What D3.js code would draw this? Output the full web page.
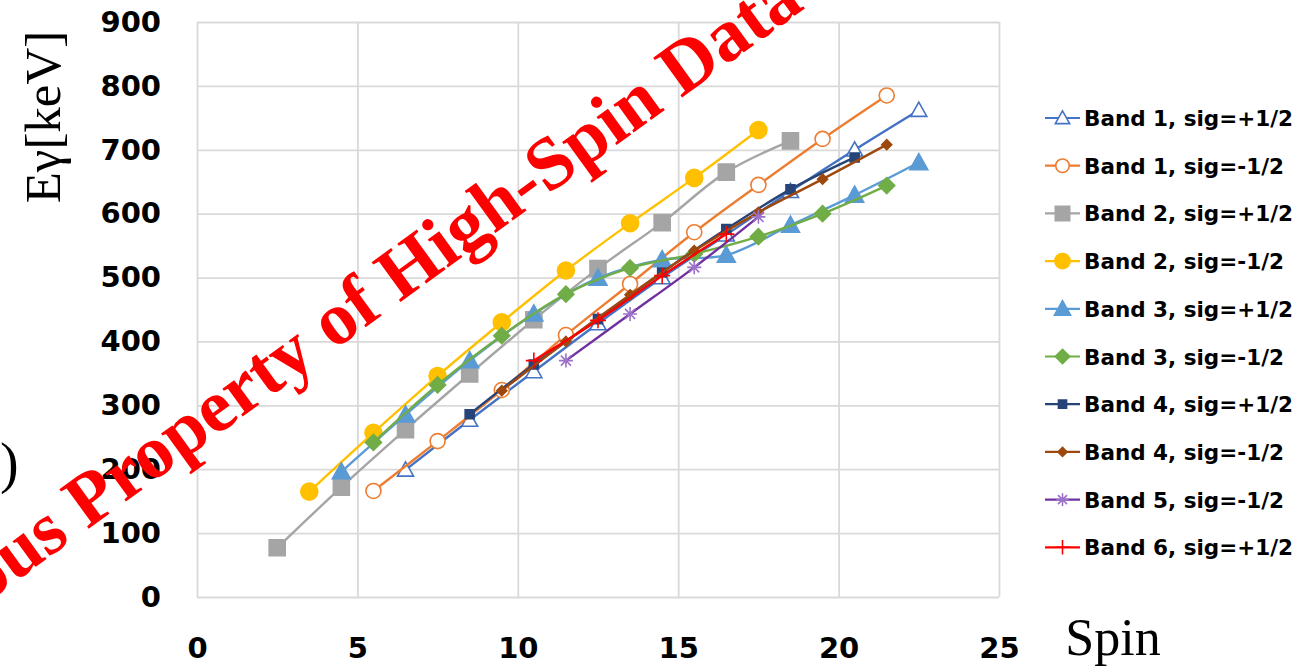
<!DOCTYPE html>
<html>
<head>
<meta charset="utf-8">
<script src="https://cdn.jsdelivr.net/npm/d3@7"></script>
<style>
  html, body { margin: 0; padding: 0; background: #fff; }
  svg { display: block; }
</style>
</head>
<body>
<svg id="chart" width="1311" height="669"></svg>
<script>
// Transition energies (keV) versus spin for each rotational band and signature
const spinB1p = [6.5, 8.5, 10.5, 12.5, 14.5, 16.5, 18.5, 20.5, 22.5];
const eB1p    = [199, 277, 353, 428, 500, 567, 635, 700, 762];

const spinB1m = [5.5, 7.5, 9.5, 11.5, 13.5, 15.5, 17.5, 19.5, 21.5];
const eB1m    = [166, 244, 324, 410, 490, 571, 645, 717, 785];

const spinB2p = [2.5, 4.5, 6.5, 8.5, 10.5, 12.5, 14.5, 16.5, 18.5];
const eB2p    = [77, 172, 262, 349, 434, 514, 586, 665, 714];

const spinB2m = [3.5, 5.5, 7.5, 9.5, 11.5, 13.5, 15.5, 17.5];
const eB2m    = [165, 257, 346, 430, 511, 585, 656, 731];

const spinB3p = [4.5, 6.5, 8.5, 10.5, 12.5, 14.5, 16.5, 18.5, 20.5, 22.5];
const eB3p    = [196, 285, 370, 443, 499, 528, 535, 582, 629, 680];

const spinB3m = [5.5, 7.5, 9.5, 11.5, 13.5, 15.5, 17.5, 19.5, 21.5];
const eB3m    = [242, 332, 409, 474, 515, 537, 564, 600, 644];

const spinB4p = [8.5, 10.5, 12.5, 14.5, 16.5, 18.5, 20.5];
const eB4p    = [286, 364, 435, 508, 576, 638, 688];

const spinB4m = [9.5, 11.5, 13.5, 15.5, 17.5, 19.5, 21.5];
const eB4m    = [323, 400, 473, 542, 602, 654, 708];

const spinB5m = [11.5, 13.5, 15.5, 17.5];
const eB5m    = [370, 443, 516, 595];

const spinB6p = [10.5, 12.5, 14.5, 16.5];
const eB6p    = [370, 433, 503, 568];

const seriesNames = [
  "Band 1, sig=+1/2", "Band 1, sig=-1/2",
  "Band 2, sig=+1/2", "Band 2, sig=-1/2",
  "Band 3, sig=+1/2", "Band 3, sig=-1/2",
  "Band 4, sig=+1/2", "Band 4, sig=-1/2",
  "Band 5, sig=-1/2", "Band 6, sig=+1/2"
];

const xTicks = [0, 5, 10, 15, 20, 25];
const yTicks = [0, 100, 200, 300, 400, 500, 600, 700, 800, 900];

// Styling for each series: line colour, marker shape, marker fill/stroke
const styles = [
  { line: "#4472C4", shape: "triangle", size: 8,   fill: "#fff",    stroke: "#4472C4" },
  { line: "#ED7D31", shape: "circle",   size: 7.5, fill: "#fff",    stroke: "#ED7D31" },
  { line: "#A5A5A5", shape: "square",   size: 8,   fill: "#A5A5A5", stroke: "#A5A5A5" },
  { line: "#FFC000", shape: "circle",   size: 8.5, fill: "#FFC000", stroke: "#FFC000" },
  { line: "#5B9BD5", shape: "triangle", size: 9,   fill: "#5B9BD5", stroke: "#5B9BD5" },
  { line: "#70AD47", shape: "diamond",  size: 8,   fill: "#70AD47", stroke: "#70AD47" },
  { line: "#264478", shape: "square",   size: 4.5, fill: "#264478", stroke: "#264478" },
  { line: "#9E480E", shape: "diamond",  size: 5,   fill: "#9E480E", stroke: "#9E480E" },
  { line: "#7030A0", shape: "star",     size: 7,   fill: "none",    stroke: "#9B72C8" },
  { line: "#FF0000", shape: "plus",     size: 8,   fill: "none",    stroke: "#FF0000" }
];

const spins  = [spinB1p, spinB1m, spinB2p, spinB2m, spinB3p, spinB3m, spinB4p, spinB4m, spinB5m, spinB6p];
const values = [eB1p, eB1m, eB2p, eB2m, eB3p, eB3m, eB4p, eB4m, eB5m, eB6p];

const series = seriesNames.map((name, i) => ({
  name,
  style: styles[i],
  points: spins[i].map((s, j) => ({ s, e: values[i][j] }))
}));

const svg = d3.select("#chart");

const x = d3.scaleLinear().domain([0, 25]).range([197, 999]);
const y = d3.scaleLinear().domain([0, 900]).range([597, 22]);

// Gridlines and tick labels
const gridColor = "#D9D9D9";
const tickFont = "'DejaVu Sans', sans-serif";

const xAxis = svg.append("g")
  .attr("transform", `translate(0,${y(0)})`)
  .call(d3.axisBottom(x).tickValues(xTicks).tickSize(-(y(0) - y(900))).tickPadding(40).tickFormat(d3.format("d")));
const yAxis = svg.append("g")
  .attr("transform", `translate(${x(0)},0)`)
  .call(d3.axisLeft(y).tickValues(yTicks).tickSize(-(x(25) - x(0))).tickPadding(36).tickFormat(d3.format("d")));

[xAxis, yAxis].forEach(g => {
  g.select(".domain").remove();
  g.selectAll(".tick line").attr("stroke", gridColor).attr("stroke-width", 1.8);
  g.selectAll(".tick text")
    .attr("fill", "#000")
    .style("font-family", tickFont)
    .style("font-weight", "bold")
    .style("font-size", "29px");
});

// Marker path builders (centered at 0,0)
function markerPath(shape, r) {
  const p = d3.path();
  switch (shape) {
    case "triangle":
      p.moveTo(0, -r); p.lineTo(r, r * 0.78); p.lineTo(-r, r * 0.78); p.closePath(); break;
    case "circle":
      p.moveTo(r, 0); p.arc(0, 0, r, 0, 2 * Math.PI); p.closePath(); break;
    case "square":
      p.rect(-r, -r, 2 * r, 2 * r); break;
    case "diamond":
      p.moveTo(0, -r); p.lineTo(r, 0); p.lineTo(0, r); p.lineTo(-r, 0); p.closePath(); break;
    case "star": {
      const d = r * 0.72;
      p.moveTo(-d, -d); p.lineTo(d, d);
      p.moveTo(d, -d); p.lineTo(-d, d);
      p.moveTo(0, -r); p.lineTo(0, r);
      p.moveTo(-r, 0); p.lineTo(r, 0);
      break;
    }
    case "plus":
      p.moveTo(-r, 0); p.lineTo(r, 0);
      p.moveTo(0, -r); p.lineTo(0, r); break;
  }
  return p.toString();
}

const line = d3.line()
  .x(d => x(d.s))
  .y(d => y(d.e))
  .curve(d3.curveCatmullRom.alpha(0.5));

const plot = svg.append("g");

series.forEach(sr => {
  const g = plot.append("g");
  g.append("path")
    .attr("d", line(sr.points))
    .attr("fill", "none")
    .attr("stroke", sr.style.line)
    .attr("stroke-width", 2.4);
  g.selectAll("path.mk")
    .data(sr.points)
    .join("path")
    .attr("class", "mk")
    .attr("transform", d => `translate(${x(d.s)},${y(d.e)})`)
    .attr("d", markerPath(sr.style.shape, sr.style.size))
    .attr("fill", sr.style.fill)
    .attr("stroke", sr.style.stroke)
    .attr("stroke-width", 1.6);
});

// Legend
const legend = svg.append("g");
series.forEach((sr, i) => {
  const cy = 118 + i * 47.7;
  const row = legend.append("g").attr("transform", `translate(0,${cy})`);
  row.append("line")
    .attr("x1", 1045).attr("x2", 1080)
    .attr("y1", 0).attr("y2", 0)
    .attr("stroke", sr.style.line).attr("stroke-width", 2.2);
  row.append("path")
    .attr("transform", "translate(1062.5,0)")
    .attr("d", markerPath(sr.style.shape, sr.style.size * 0.9))
    .attr("fill", sr.style.fill)
    .attr("stroke", sr.style.stroke)
    .attr("stroke-width", 1.6);
  row.append("text")
    .attr("x", 1084).attr("y", 8)
    .style("font-family", tickFont)
    .style("font-weight", "bold")
    .style("font-size", "21.5px")
    .attr("fill", "#000")
    .text(sr.name);
});

// Axis titles
svg.append("text")
  .attr("transform", "translate(60,117) rotate(-90)")
  .attr("text-anchor", "middle")
  .style("font-family", "'Liberation Serif', serif")
  .style("font-size", "51px")
  .attr("fill", "#000")
  .text("Eγ[keV]");

svg.append("text")
  .attr("x", 1113).attr("y", 655)
  .attr("text-anchor", "middle")
  .style("font-family", "'Liberation Serif', serif")
  .style("font-size", "52px")
  .attr("fill", "#000")
  .text("Spin");

svg.append("text")
  .attr("x", 0).attr("y", 482)
  .attr("text-anchor", "start")
  .style("font-family", "'Liberation Serif', serif")
  .style("font-size", "56px")
  .attr("fill", "#000")
  .text(")");

// Diagonal red stamp across the plot
svg.append("text")
  .attr("transform", "translate(395,306) rotate(-36)")
  .attr("text-anchor", "middle")
  .style("font-family", "'Liberation Serif', serif")
  .style("font-weight", "bold")
  .style("font-size", "75px")
  .attr("fill", "#FF0000")
  .text("ous Property of High-Spin Data");
</script>
</body>
</html>
